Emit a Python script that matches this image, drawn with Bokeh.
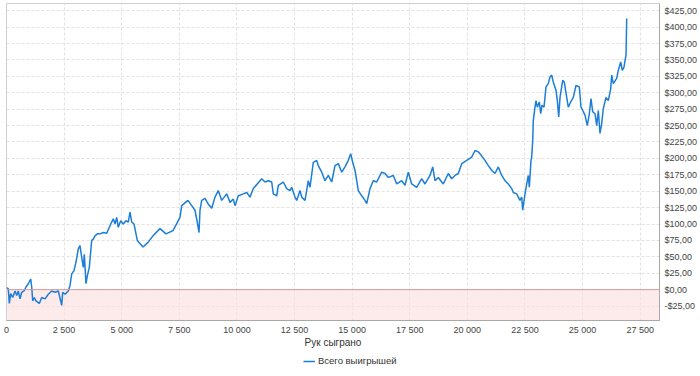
import numpy as np
from bokeh.plotting import figure
from bokeh.layouts import column
from bokeh.models import (FixedTicker, BoxAnnotation, Span, Legend, LegendItem,
                          Range1d, ColumnDataSource)
from bokeh.embed import file_html
from bokeh.resources import INLINE

hands = [0, 78, 122, 182, 269, 369, 443, 512, 586, 660, 760, 846, 946, 1050, 1094, 1137,
         1207, 1280, 1424, 1528, 1671, 1814, 1962, 2105, 2248, 2396, 2439, 2539, 2682, 2756,
         2830, 2930, 3016, 3116, 3190, 3264, 3333, 3377, 3450, 3507, 3594, 3698, 3767, 3841,
         3941, 4058, 4201, 4349, 4462, 4566, 4635, 4709, 4783, 4852, 4956, 5069, 5186, 5286,
         5360, 5434, 5534, 5620, 5677, 5924, 6141, 6358, 6662, 6922, 7226, 7530, 7604, 7877,
         8038, 8181, 8268, 8355, 8398, 8472, 8615, 8745, 8906, 9049, 9192, 9340, 9557, 9700,
         9843, 9917, 10060, 10277, 10425, 10568, 10711, 11002, 11076, 11219, 11362, 11510,
         11579, 11727, 11796, 12013, 12161, 12304, 12378, 12521, 12595, 12738, 12812, 12955,
         13098, 13172, 13315, 13463, 13532, 13680, 13823, 13966, 14114, 14257, 14400, 14548,
         14691, 14834, 14938, 15025, 15125, 15199, 15268, 15416, 15559, 15633, 15776, 15919,
         16067, 16284, 16427, 16570, 16787, 16935, 17152, 17295, 17438, 17586, 17803, 18020,
         18163, 18380, 18497, 18597, 18740, 18957, 19174, 19321, 19465, 19608, 19756, 19973,
         20189, 20333, 20476, 20550, 20767, 20910, 21058, 21201, 21344, 21492, 21635, 21778,
         21926, 21996, 22143, 22286, 22360, 22403, 22503, 22603, 22646, 22690, 22763, 22794,
         22837, 22863, 22937, 22980, 23037, 23124, 23184, 23241, 23328, 23415, 23514, 23588,
         23662, 23731, 23848, 23905, 23966, 24022, 24139, 24209, 24313, 24382, 24486, 24599,
         24716, 24860, 24933, 25007, 25107, 25207, 25294, 25367, 25441, 25541, 25615, 25684,
         25758, 25831, 25901, 26018, 26118, 26222, 26265, 26335, 26482, 26552, 26657, 26726,
         26800, 26843, 26887, 26917]

winnings = [3, 1.5, -21, -6, -12, -2, -9, -2, -14, -4, -2, 4, 9, 16, 4, -17,
            -12, -17, -21, -12, -14, -7, -2, -4, -2, -24, -4, -7, -2, 6,
            24, 29, 42, 62, 67, 49, 34, 54, 9, 21, 34, 75, 77, 82,
            85, 85, 87, 86, 95, 103, 108, 100, 110, 95, 105, 100, 105, 103,
            118, 103, 100, 85, 75, 65, 72, 82, 93, 85, 90, 110, 128, 136,
            128, 121, 105, 87, 121, 136, 139, 131, 124, 141, 151, 136, 146, 133,
            138, 128, 143, 146, 148, 141, 154, 166, 169, 164, 166, 164,
            146, 143, 159, 164, 154, 151, 156, 141, 136, 151, 141, 136,
            166, 156, 194, 197, 189, 179, 166, 174, 164, 189, 192, 179,
            187, 197, 207, 194, 182, 166, 151, 143, 136, 131, 154, 166,
            164, 179, 177, 171, 174, 161, 166, 159, 179, 161, 156, 169,
            161, 174, 187, 166, 171, 161, 177, 169, 174, 177, 192, 197,
            202, 212, 210, 207, 197, 189, 182, 177, 187, 174, 166, 161,
            154, 148, 146, 136, 141, 121, 146, 166, 174, 156, 197, 202,
            227, 258, 278, 288, 278, 286, 268, 281, 278, 309, 314, 324,
            327, 316, 304, 288, 263, 293, 319, 316, 293, 278, 286, 293,
            311, 309, 278, 273, 266, 250, 268, 291, 271, 268, 250, 273,
            238, 253, 276, 293, 288, 306, 327, 314, 322, 334, 347, 334,
            339, 349, 357, 413]

x_ticks = [0, 2500, 5000, 7500, 10000, 12500, 15000, 17500, 20000, 22500, 25000, 27500]
x_tick_labels = ["0", "2 500", "5 000", "7 500", "10 000", "12 500", "15 000",
                 "17 500", "20 000", "22 500", "25 000", "27 500"]
y_ticks = [-25, 0, 25, 50, 75, 100, 125, 150, 175, 200, 225, 250, 275, 300, 325,
           350, 375, 400, 425]
y_tick_labels = ["-$25,00", "$0,00", "$25,00", "$50,00", "$75,00", "$100,00", "$125,00",
                 "$150,00", "$175,00", "$200,00", "$225,00", "$250,00", "$275,00",
                 "$300,00", "$325,00", "$350,00", "$375,00", "$400,00", "$425,00"]
series_name = "Всего выигрышей"
x_title = "Рук сыграно"

FONT = "Liberation Sans"
LINE_COLOR = "#1c7ed6"

src = ColumnDataSource(dict(x=hands, y=winnings))

p = figure(frame_width=653, frame_height=317, output_backend="svg", toolbar_location=None,
           x_range=Range1d(0, 28340), y_range=Range1d(-47, 436),
           y_axis_location="right", min_border_left=6, min_border_top=3,
           min_border_bottom=0, min_border_right=0, background_fill_color="white")

p.outline_line_color = "#cfcfcf"

band = BoxAnnotation(top=0, fill_color="#fcdede", fill_alpha=0.65, line_alpha=0,
                     level="underlay")
p.add_layout(band)
zero = Span(location=0, dimension="width", line_color="#d39a9a", line_width=1)
p.add_layout(zero)

r = p.line("x", "y", source=src, line_color=LINE_COLOR, line_width=1.5)

for g in (p.xgrid, p.ygrid):
    g.grid_line_color = "#e2e2e2"
    g.grid_line_dash = "3 2"
    g.grid_line_width = 1

p.xaxis.ticker = FixedTicker(ticks=x_ticks)
p.xaxis.major_label_overrides = {t: l for t, l in zip(x_ticks, x_tick_labels)}
p.yaxis.ticker = FixedTicker(ticks=y_ticks)
p.yaxis.major_label_overrides = {t: l for t, l in zip(y_ticks, y_tick_labels)}

for ax in (p.xaxis, p.yaxis):
    ax.axis_line_color = "#a8a8a8"
    ax.major_tick_line_color = None
    ax.minor_tick_line_color = None
    ax.major_tick_out = 0
    ax.major_label_text_font = FONT
    ax.major_label_text_font_size = "9px"
    ax.major_label_text_color = "#444444"

p.yaxis.major_label_standoff = 5
p.xaxis.major_label_standoff = 4

p.xaxis.axis_label = x_title
p.xaxis.axis_label_text_font = FONT
p.xaxis.axis_label_text_font_style = "normal"
p.xaxis.axis_label_text_font_size = "10px"
p.xaxis.axis_label_text_color = "#333333"
p.xaxis.axis_label_standoff = -1

# small strip below the chart that holds the legend
lg = figure(width=690, height=18, output_backend="svg", toolbar_location=None,
            x_range=Range1d(0, 1), y_range=Range1d(0, 1),
            x_axis_type=None, y_axis_type=None,
            min_border_left=0, min_border_right=0, min_border_top=0, min_border_bottom=0)
lg.outline_line_color = None
lg.xgrid.visible = False
lg.ygrid.visible = False
key_src = ColumnDataSource(dict(x=[np.nan], y=[np.nan]))
key = lg.line("x", "y", source=key_src, line_color=LINE_COLOR, line_width=1.5)

legend = Legend(items=[LegendItem(label=series_name, renderers=[key], index=0)],
                orientation="horizontal", location=(297, 2))
legend.border_line_color = None
legend.background_fill_alpha = 0
legend.label_text_font = FONT
legend.label_text_font_size = "9.5px"
legend.label_text_color = "#333333"
legend.glyph_width = 12
legend.glyph_height = 10
legend.label_height = 10
legend.padding = 2
legend.margin = 0
legend.label_standoff = 3
lg.add_layout(legend)

layout = column(p, lg, spacing=0)
open("out.html", "w").write(file_html(layout, INLINE))
